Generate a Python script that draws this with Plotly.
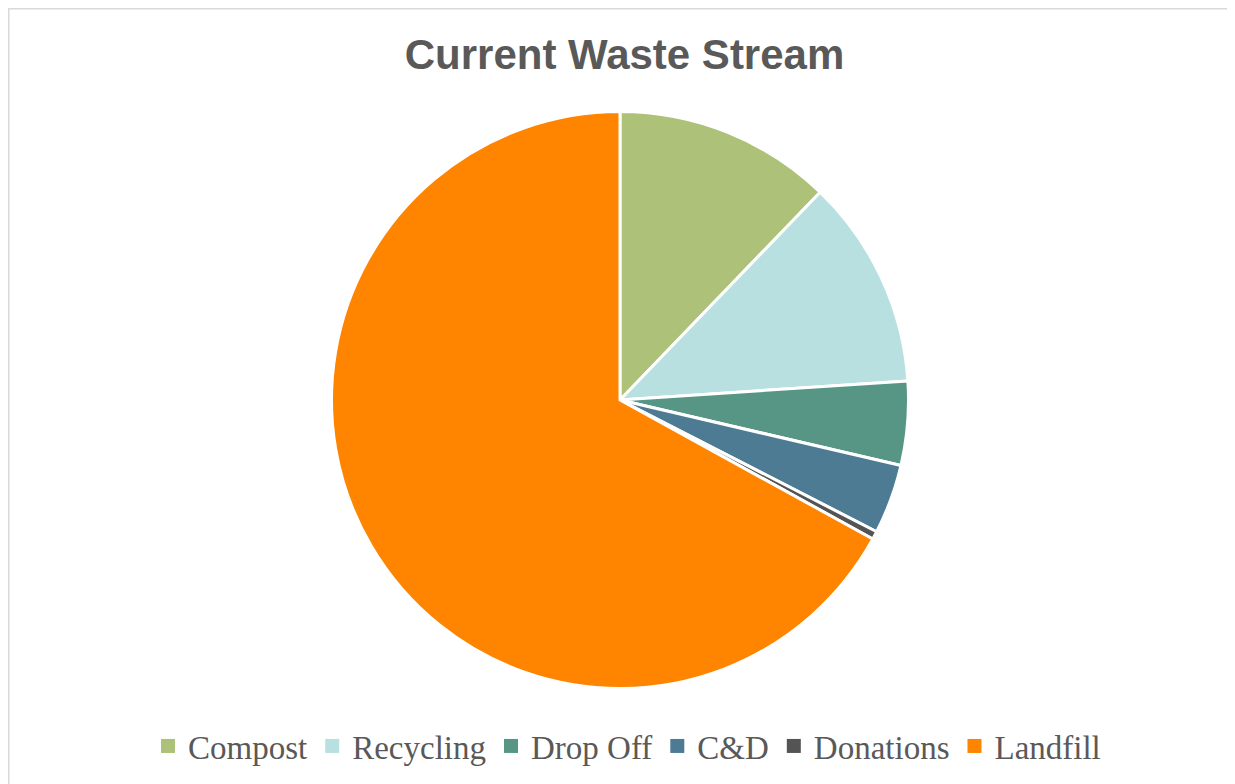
import plotly.graph_objects as go

categories = ["Compost", "Recycling", "Drop Off", "C&D", "Donations", "Landfill"]
values = [12.2, 11.75, 4.7, 3.9, 0.45, 67.0]
colors = ["#ADC178", "#B9E0E0", "#579684", "#4E7B94", "#545454", "#FF8500"]

W, H = 1235, 784
OFF = 8  # page body margin offset
cx, cy, r = 620 - OFF, 400 - OFF, 288.5

fig = go.Figure()
fig.add_trace(go.Pie(
    labels=categories,
    values=values,
    sort=False,
    direction="clockwise",
    rotation=0,
    marker=dict(colors=colors, line=dict(color="white", width=3)),
    textinfo="none",
    hoverinfo="label+percent",
    showlegend=False,
    domain=dict(x=[(cx - r) / W, (cx + r) / W], y=[1 - (cy + r) / H, 1 - (cy - r) / H]),
))
for name, col in zip(categories, colors):
    fig.add_trace(go.Scatter(x=[None], y=[None], mode="markers", name=name,
                             marker=dict(symbol="square", size=14, color=col),
                             hoverinfo="skip"))

fig.update_layout(
    width=W, height=H,
    margin=dict(l=0, r=0, t=0, b=0),
    paper_bgcolor="white",
    plot_bgcolor="white",
    xaxis=dict(visible=False),
    yaxis=dict(visible=False),
    title=dict(text="<b>Current Waste Stream</b>", x=(624.5 - OFF) / W, xanchor="center",
               y=1 - (54 - OFF) / H, yanchor="middle",
               font=dict(family="Liberation Sans, Arial", size=42, color="#595959")),
    legend=dict(orientation="h", x=(627 - OFF) / W, xanchor="center", y=1 - (746 - OFF) / H,
                yanchor="middle",
                font=dict(family="Liberation Serif, serif", size=33, color="#595959"),
                itemsizing="trace", traceorder="normal"),
    shapes=[dict(type="rect", xref="paper", yref="paper", x0=0.75 / W, x1=(1233 - OFF) / W,
                 y0=-0.05, y1=1 - 0.75 / H, line=dict(color="#D9D9D9", width=1.5))],
)

fig.write_html("out.html")
